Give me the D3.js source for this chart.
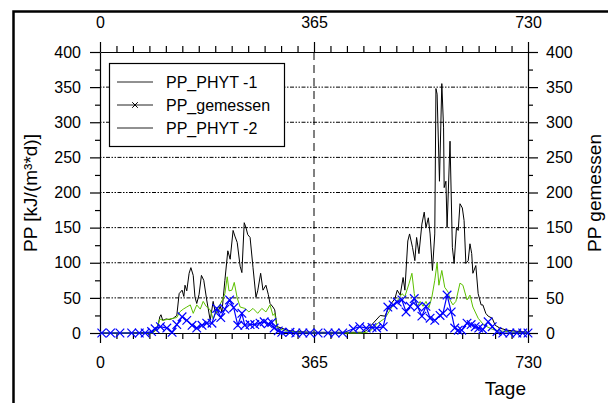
<!DOCTYPE html>
<html>
<head>
<meta charset="utf-8">
<script src="https://cdn.jsdelivr.net/npm/d3@7"></script>
<style>
  body { margin: 0; background: #fff; }
  svg { display: block; font-family: Arial, "Liberation Sans", sans-serif; }
</style>
</head>
<body>
<svg id="chart"></svg>
<script>
// PP_PHYT -1 (black)
const phyt1Days = [0, 40, 85, 94, 99, 102, 104, 107, 113, 118, 125, 131, 135, 140, 143, 145, 148, 152, 155, 159,
      162, 165, 169, 173, 177, 182, 188, 193, 197, 201, 205, 208, 213, 218, 222, 227, 230, 234, 239, 242,
      246, 249, 252, 256, 261, 266, 269, 274, 278, 283, 287, 290, 295, 298, 302, 310, 319, 333, 365,
      400, 449, 455, 466, 478, 486, 495, 503, 507, 512, 517, 520, 525, 528, 533, 537, 540, 544, 549, 553,
      556, 560, 563, 567, 571, 573, 575, 579, 583, 586, 587, 590, 592, 597, 601, 604, 608, 611, 614, 618,
      621, 624, 628, 631, 634, 636, 641, 645, 650, 653, 658, 662, 669, 674, 682, 694, 716, 730];
const phyt1Vals = [0, 0, 1, 3, 10, 23, 26, 18, 20, 19, 21, 25, 56, 61, 52, 68, 60, 85, 93, 82,
      51, 42, 55, 82, 75, 47, 18, 45, 28, 30, 38, 30, 75, 117, 105, 146, 138, 129, 95, 86,
      157, 150, 140, 136, 93, 51, 60, 85, 61, 68, 55, 42, 37, 33, 9, 7, 4, 2, 1,
      1, 1, 4, 14, 25, 24, 40, 49, 61, 54, 79, 61, 131, 141, 122, 103, 136, 113, 155, 172,
      150, 164, 141, 89, 141, 348, 340, 216, 355, 292, 207, 216, 150, 273, 122, 99, 150, 146, 184, 178,
      160, 99, 103, 127, 113, 85, 96, 56, 40, 40, 28, 24, 21, 11, 7, 4, 2, 1];

// PP_PHYT -2 (green)
const phyt2Days = [0, 90, 96, 102, 107, 119, 131, 136, 142, 148, 154, 159, 165, 171, 176, 181, 188, 193, 201, 210,
      213, 217, 220, 225, 229, 234, 239, 247, 254, 261, 269, 276, 283, 290, 295, 298, 302, 316, 341, 365,
      443, 455, 464, 474, 486, 498, 508, 515, 520, 527, 532, 536, 541, 546, 551, 556, 561, 566, 571, 575,
      578, 583, 588, 594, 597, 602, 607, 614, 619, 626, 631, 636, 645, 653, 660, 670, 682, 708, 730];
const phyt2Vals = [0, 0, 5, 20, 18, 20, 22, 30, 34, 37, 40, 28, 40, 34, 45, 38, 33, 20, 35, 49,
      56, 80, 60, 61, 72, 50, 37, 35, 30, 35, 28, 35, 30, 40, 25, 28, 7, 3, 1, 0,
      0, 1, 5, 14, 21, 37, 47, 56, 52, 70, 85, 56, 37, 45, 38, 45, 36, 51, 75, 100,
      68, 89, 65, 58, 47, 40, 45, 71, 68, 47, 54, 37, 21, 13, 9, 5, 3, 1, 0];

// PP_gemessen (blue, markers)
const gemDays = [3, 18, 34, 54, 67, 77, 88, 94, 103, 114, 123, 131, 140, 148, 157, 165, 174, 182, 191, 199,
      206, 213, 221, 228, 235, 242, 247, 256, 264, 273, 280, 287, 293, 297, 304, 310, 324, 334, 346, 358,
      372, 389, 401, 414, 432, 443, 454, 464, 472, 483, 491, 500, 507, 515, 522, 529, 536, 542, 549, 556,
      563, 571, 580, 585, 592, 599, 605, 611, 617, 626, 633, 640, 646, 653, 662, 669, 677, 687, 699, 711,
      721, 730];
const gemVals = [0, 0, 0, 0, 0, 0, 2, 6, 9, 7, 1, 12, 23, 18, 11, 7, 11, 14, 14, 35,
      22, 34, 47, 36, 11, 28, 11, 12, 12, 14, 16, 13, 15, 7, 3, 1, 1, 0, 0, 0,
      0, 0, 0, 0, 6, 9, 7, 8, 7, 9, 37, 40, 44, 47, 30, 38, 49, 37, 24, 38,
      21, 18, 25, 28, 54, 30, 7, 4, 4, 14, 12, 9, 7, 5, 16, 9, 2, 0, 0, 0,
      0, 0];

const xTickLabels = [0, 365, 730];
const yTickLabels = [0, 50, 100, 150, 200, 250, 300, 350, 400];
const legendNames = ['PP_PHYT -1', 'PP_gemessen', 'PP_PHYT -2'];

const width = 608, height = 403;
const plot = {left: 100, right: 528, top: 52, bottom: 333};

const svg = d3.select('#chart')
      .attr('width', width)
      .attr('height', height);

const xscale = d3.scaleLinear()
      .domain([0, 730])
      .range([plot.left, plot.right]);

const yscale = d3.scaleLinear()
      .domain([0, 400])
      .range([plot.bottom, plot.top]);

const toPoints = (days, vals) => days.map((d, i) => ({day: d, val: vals[i]}));
const phyt1 = toPoints(phyt1Days, phyt1Vals);
const phyt2 = toPoints(phyt2Days, phyt2Vals);
const gem = toPoints(gemDays, gemVals);

// minor ticks: 13 per year
const xTicks = d3.range(27).map(i => i * 730 / 26);
const yTicks = d3.range(0, 401, 25);
const isXMajor = d => xTickLabels.includes(Math.round(d));
const isYMajor = d => d % 50 === 0;

// grid
svg.append('g')
      .selectAll('line')
      .data(yTickLabels.filter(v => v > 0 && v < 400))
      .join('line')
      .attr('x1', plot.left)
      .attr('x2', plot.right)
      .attr('y1', d => yscale(d))
      .attr('y2', d => yscale(d))
      .attr('stroke', '#000')
      .attr('stroke-width', 1)
      .attr('stroke-dasharray', '1.5,1.5,1.5,1.5,4,1.5');

svg.append('line')
      .attr('x1', xscale(365))
      .attr('x2', xscale(365))
      .attr('y1', plot.top)
      .attr('y2', plot.bottom)
      .attr('stroke', '#000')
      .attr('stroke-width', 1)
      .attr('stroke-dasharray', '8,5');

// axes
const xfmt = d => isXMajor(d) ? Math.round(d) : '';
const yfmt = d => yTickLabels.includes(d) ? d : '';

const bottomAxis = svg.append('g')
      .attr('transform', `translate(0, ${plot.bottom})`)
      .call(d3.axisBottom(xscale).tickValues(xTicks).tickSize(6).tickPadding(17.6).tickSizeOuter(0).tickFormat(xfmt));
bottomAxis.selectAll('.tick line').attr('y2', d => isXMajor(d) ? 10 : 6);

const topAxis = svg.append('g')
      .attr('transform', `translate(0, ${plot.top})`)
      .call(d3.axisTop(xscale).tickValues(xTicks).tickSize(6).tickPadding(18).tickSizeOuter(0).tickFormat(xfmt));
topAxis.selectAll('.tick line').attr('y2', d => isXMajor(d) ? -10 : -6);

const leftAxis = svg.append('g')
      .attr('transform', `translate(${plot.left}, 0)`)
      .call(d3.axisLeft(yscale).tickValues(yTicks).tickSize(5).tickPadding(14).tickSizeOuter(0).tickFormat(yfmt));
leftAxis.selectAll('.tick line').attr('x2', d => isYMajor(d) ? -10 : -5);

const rightAxis = svg.append('g')
      .attr('transform', `translate(${plot.right}, 0)`)
      .call(d3.axisRight(yscale).tickValues(yTicks).tickSize(5).tickPadding(13).tickSizeOuter(0).tickFormat(yfmt));
rightAxis.selectAll('.tick line').attr('x2', d => isYMajor(d) ? 10 : 5);

svg.selectAll('.domain, .tick line')
      .attr('stroke', '#000')
      .attr('stroke-width', 1.2);
svg.selectAll('.tick text')
      .attr('fill', '#000')
      .style('font-size', '16px')
      .style('font-family', 'Arial, "Liberation Sans", sans-serif');

// series
const line = d3.line()
      .x(d => xscale(d.day))
      .y(d => yscale(d.val));

svg.append('path')
      .datum(phyt1)
      .attr('d', line)
      .attr('fill', 'none')
      .attr('stroke', '#000')
      .attr('stroke-width', 1);

svg.append('path')
      .datum(phyt2)
      .attr('d', line)
      .attr('fill', 'none')
      .attr('stroke', '#5cc000')
      .attr('stroke-width', 1);

svg.append('path')
      .datum(gem)
      .attr('d', line)
      .attr('fill', 'none')
      .attr('stroke', '#0000ff')
      .attr('stroke-width', 1.2);

const xmark = d3.symbol().type(d3.symbolX).size(50);
svg.append('g')
      .selectAll('path')
      .data(gem)
      .join('path')
      .attr('transform', d => `translate(${xscale(d.day)}, ${yscale(d.val)})`)
      .attr('d', xmark)
      .attr('fill', 'none')
      .attr('stroke', '#0000ff')
      .attr('stroke-width', 1.2);

// legend
const legend = svg.append('g');
legend.append('rect')
      .attr('x', 109.5)
      .attr('y', 63.5)
      .attr('width', 175)
      .attr('height', 83)
      .attr('fill', '#fff')
      .attr('stroke', '#000')
      .attr('stroke-width', 1.2);

const rows = legend.selectAll('g.row')
      .data(legendNames)
      .join('g')
      .attr('class', 'row')
      .attr('transform', (d, i) => `translate(0, ${82 + i * 23})`);

rows.append('line')
      .attr('x1', 117)
      .attr('x2', 153)
      .attr('stroke', '#222')
      .attr('stroke-width', 1);

rows.append('text')
      .attr('x', 166)
      .attr('y', 5.7)
      .style('font-size', '16px')
      .attr('fill', '#000')
      .text(d => d);

rows.filter(d => d === 'PP_gemessen')
      .append('path')
      .attr('transform', 'translate(135, 0)')
      .attr('d', d3.symbol().type(d3.symbolX).size(22))
      .attr('fill', 'none')
      .attr('stroke', '#000')
      .attr('stroke-width', 1);

// axis titles
svg.append('text')
      .attr('transform', 'translate(37, 193) rotate(-90)')
      .attr('text-anchor', 'middle')
      .style('font-size', '19px')
      .text('PP [kJ/(m³*d)]');

svg.append('text')
      .attr('transform', 'translate(601, 193) rotate(-90)')
      .attr('text-anchor', 'middle')
      .style('font-size', '19px')
      .text('PP gemessen');

svg.append('text')
      .attr('x', 526)
      .attr('y', 395)
      .attr('text-anchor', 'end')
      .style('font-size', '19px')
      .text('Tage');

// outer frame (top and left edges)
svg.append('path')
      .attr('d', `M13.5,403V11.5H${width}`)
      .attr('fill', 'none')
      .attr('stroke', '#000')
      .attr('stroke-width', 2.5);
</script>
</body>
</html>
